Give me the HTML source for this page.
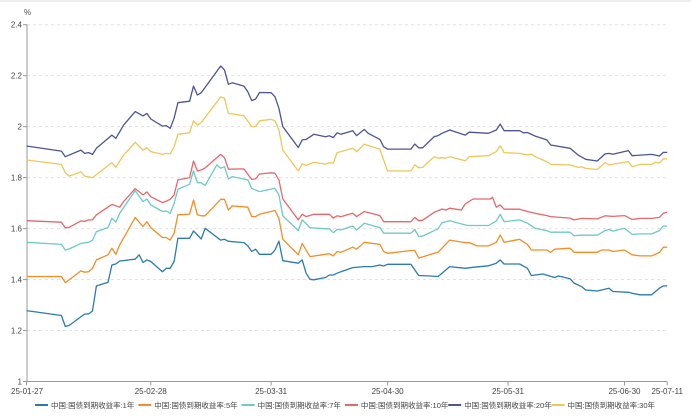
<!DOCTYPE html>
<html><head><meta charset="utf-8">
<style>
html,body{margin:0;padding:0;background:#fff;}
body{width:691px;height:413px;overflow:hidden;font-family:"Liberation Sans","Noto Sans CJK SC",sans-serif;}
svg text{font-family:"Liberation Sans","Noto Sans CJK SC",sans-serif;}
</style></head>
<body>
<svg id="chart" width="691" height="413" xmlns="http://www.w3.org/2000/svg">
  <rect x="0" y="0" width="691" height="2" fill="#eee"/>
  <g id="grid"></g>
  <g id="yaxis"></g>
  <g id="xaxis"></g>
  <g id="series"></g>
  <g id="legend"></g>
  <text x="24" y="15" font-size="8" fill="#555">%</text>
</svg>
<script>
const yTicks = [1, 1.2, 1.4, 1.6, 1.8, 2, 2.2, 2.4];
const yTickLabels = ["1","1.2","1.4","1.6","1.8","2","2.2","2.4"];
const xTickDays = [0, 32, 63, 93, 124, 154, 165];
const xTickLabels = ["25-01-27","25-02-28","25-03-31","25-04-30","25-05-31","25-06-30","25-07-11"];
const seriesNames = ["中国:国债到期收益率:1年","中国:国债到期收益率:5年","中国:国债到期收益率:7年","中国:国债到期收益率:10年","中国:国债到期收益率:20年","中国:国债到期收益率:30年"];

const days1Y = [0,9,10,11,15,16,17,18,21,22,23,24,28,29,30,31,32,35,36,37,38,39,42,43,44,45,46,50,51,52,56,57,58,59,60,63,64,65,66,70,71,72,73,74,77,78,79,80,81,84,87,89,91,92,93,99,101,104,106,107,109,113,115,119,121,122,123,127,129,130,133,136,137,140,141,143,144,147,150,151,155,156,158,161,163,164,165];
const vals1Y = [1.278,1.259,1.216,1.220,1.265,1.265,1.277,1.375,1.389,1.457,1.461,1.473,1.480,1.497,1.467,1.477,1.471,1.431,1.444,1.444,1.471,1.562,1.562,1.591,1.575,1.559,1.601,1.555,1.558,1.550,1.545,1.532,1.510,1.519,1.499,1.499,1.516,1.551,1.474,1.464,1.477,1.425,1.401,1.399,1.408,1.418,1.418,1.425,1.431,1.447,1.451,1.451,1.457,1.453,1.460,1.460,1.416,1.414,1.412,1.425,1.451,1.444,1.448,1.454,1.464,1.477,1.461,1.461,1.444,1.416,1.422,1.408,1.414,1.403,1.386,1.372,1.359,1.355,1.366,1.353,1.350,1.346,1.340,1.340,1.366,1.375,1.375];

const days5Y = [0,9,10,14,15,16,17,18,21,22,23,24,28,30,31,32,35,36,37,38,39,42,43,44,45,46,50,51,52,53,57,58,59,60,64,65,66,70,71,73,77,78,79,80,81,84,85,87,91,92,93,99,100,101,105,106,109,113,114,116,119,121,122,123,127,129,130,134,135,136,140,141,143,147,148,150,151,154,156,158,161,163,164,165];
const vals5Y = [1.412,1.412,1.388,1.434,1.429,1.431,1.444,1.477,1.497,1.523,1.499,1.536,1.644,1.608,1.627,1.604,1.565,1.565,1.555,1.582,1.654,1.657,1.712,1.654,1.650,1.650,1.715,1.715,1.673,1.689,1.684,1.647,1.647,1.656,1.671,1.640,1.558,1.497,1.542,1.490,1.499,1.501,1.493,1.510,1.507,1.527,1.519,1.546,1.538,1.510,1.503,1.514,1.514,1.484,1.503,1.507,1.555,1.545,1.545,1.532,1.532,1.546,1.575,1.546,1.558,1.538,1.516,1.516,1.507,1.519,1.523,1.507,1.507,1.507,1.516,1.516,1.510,1.516,1.497,1.493,1.493,1.506,1.527,1.527];

const days7Y = [0,9,10,11,14,16,17,18,21,22,23,24,28,30,31,32,35,36,37,38,39,42,43,44,45,46,49,50,51,52,53,57,58,60,64,65,66,70,71,73,77,78,79,80,81,84,85,87,91,92,99,100,101,102,106,107,109,113,114,119,121,122,123,127,129,131,134,135,140,141,143,147,149,150,151,154,156,158,161,163,164,165];
const vals7Y = [1.546,1.538,1.516,1.520,1.542,1.546,1.555,1.588,1.604,1.640,1.625,1.660,1.749,1.706,1.716,1.693,1.667,1.669,1.660,1.699,1.754,1.774,1.827,1.780,1.780,1.769,1.850,1.837,1.843,1.795,1.804,1.791,1.758,1.745,1.758,1.732,1.650,1.592,1.634,1.604,1.599,1.599,1.584,1.597,1.595,1.610,1.595,1.621,1.604,1.582,1.582,1.597,1.569,1.571,1.599,1.623,1.631,1.614,1.612,1.612,1.630,1.656,1.627,1.634,1.621,1.601,1.592,1.586,1.586,1.572,1.574,1.574,1.592,1.597,1.590,1.601,1.577,1.579,1.579,1.592,1.610,1.610];

const days10Y = [0,9,10,11,14,15,16,17,18,22,24,25,28,30,31,32,35,36,37,38,39,42,43,44,45,46,50,51,52,56,58,59,60,63,64,65,66,70,71,72,74,78,79,80,81,84,85,87,91,92,99,100,101,102,105,107,108,109,112,113,115,119.5,120,121,122,123,127,129,131,134,135,140,141,143,147,149,151,154,156,158,161,163,164,165];
const vals10Y = [1.631,1.625,1.603,1.605,1.630,1.628,1.634,1.634,1.654,1.695,1.684,1.706,1.757,1.732,1.744,1.725,1.702,1.708,1.715,1.732,1.791,1.800,1.865,1.826,1.830,1.838,1.891,1.878,1.833,1.834,1.793,1.795,1.814,1.819,1.817,1.791,1.716,1.634,1.656,1.647,1.656,1.656,1.641,1.650,1.647,1.660,1.647,1.667,1.651,1.627,1.627,1.644,1.631,1.633,1.664,1.677,1.673,1.680,1.673,1.697,1.716,1.716,1.723,1.684,1.693,1.676,1.676,1.667,1.660,1.651,1.647,1.641,1.634,1.640,1.638,1.650,1.648,1.651,1.636,1.640,1.640,1.644,1.660,1.664];

const days20Y = [0,9,10,14,15,16,17,18,22,23,25,28,30,31,32,35,36,37,38,39,42,43,44,45,50,51,52,53,56,57,58,59,60,63,64,65,66,70,71,72,74,77,78,79,80,81,84,85,87,88,91,92,93,99,100,101,102,105,106,107,109,113,114,119,121,122,123,127,128,129,131,134,135,140,142,144,147,149,150,151,155,156,161,163,164,165];
const vals20Y = [1.924,1.904,1.882,1.908,1.895,1.898,1.891,1.915,1.967,1.954,2.006,2.059,2.042,2.052,2.030,2.002,2.004,1.993,2.033,2.094,2.100,2.159,2.124,2.133,2.238,2.222,2.166,2.172,2.159,2.137,2.102,2.108,2.134,2.133,2.117,2.072,2.000,1.918,1.948,1.950,1.970,1.960,1.964,1.957,1.976,1.970,1.984,1.965,1.989,1.974,1.950,1.921,1.912,1.912,1.932,1.917,1.917,1.961,1.965,1.974,1.987,1.967,1.978,1.974,1.987,2.010,1.984,1.984,1.976,1.977,1.963,1.948,1.928,1.915,1.889,1.872,1.865,1.893,1.895,1.892,1.906,1.886,1.891,1.885,1.899,1.899];

const days30Y = [0,9,10,11,14,15,17,22,23,25,28,30,31,32,35,36,37,38,39,42,43,44,45,50,51,52,56,58,59,60,63,64,65,66,70,71,72,74,77,78,79,80,81,84,85,87,91,92,93,99,100,101,102,105,106,107,108,109,113,114,119,121,122,123,127,129,130,131,134,135,140,142,143,144,147,149,150,155,156,158,161,162,163,164,165];
const vals30Y = [1.869,1.852,1.819,1.806,1.823,1.806,1.800,1.859,1.840,1.889,1.938,1.908,1.917,1.902,1.891,1.895,1.893,1.921,1.970,1.976,2.023,2.006,2.016,2.117,2.111,2.052,2.043,2.000,2.000,2.023,2.029,2.023,1.987,1.908,1.826,1.854,1.848,1.860,1.853,1.859,1.857,1.898,1.902,1.915,1.902,1.931,1.911,1.869,1.826,1.826,1.850,1.839,1.840,1.882,1.876,1.878,1.876,1.882,1.866,1.882,1.886,1.902,1.925,1.898,1.895,1.889,1.892,1.882,1.863,1.852,1.850,1.840,1.842,1.836,1.832,1.859,1.850,1.863,1.843,1.852,1.852,1.860,1.857,1.874,1.874];

const NS = "http://www.w3.org/2000/svg";
const X0 = 26.5, PX_PER_DAY = 3.883;
const Y_BOTTOM = 381.5, Y_TOP = 24.7, VMIN = 1, VMAX = 2.4;
function xScale(d){ return X0 + d * PX_PER_DAY; }
function yScale(v){ return Y_BOTTOM - (v - VMIN) / (VMAX - VMIN) * (Y_BOTTOM - Y_TOP); }
function mk(tag, attrs, parent){ const e = document.createElementNS(NS, tag); for (const k in attrs) e.setAttribute(k, attrs[k]); parent.appendChild(e); return e; }

const grid = document.getElementById('grid');
const yaxis = document.getElementById('yaxis');
yTicks.forEach((v, i) => {
  const y = yScale(v);
  if (i > 0) {
    const g = mk('line', {x1: 27, x2: 667, y1: y, y2: y, stroke: '#e3e3e3', 'stroke-dasharray': '3,3', 'stroke-width': 1}, grid);
    
    
  }
  const t = mk('text', {x: 22, y: y + 3, 'font-size': 8, fill: '#444', 'text-anchor': 'end'}, yaxis);
  t.textContent = yTickLabels[i];
  
  
  const tk = mk('line', {x1: 23, x2: 27, y1: y, y2: y, stroke: '#999'}, yaxis);
  
  
});
const yl = mk('line', {x1: 27, x2: 27, y1: Y_TOP, y2: Y_BOTTOM, stroke: '#999'}, yaxis);



const xaxis = document.getElementById('xaxis');
const xl = mk('line', {x1: 26, x2: 667, y1: Y_BOTTOM, y2: Y_BOTTOM, stroke: '#999'}, xaxis);


xTickDays.forEach((d, i) => {
  const x = xScale(d);
  const tk = mk('line', {x1: x, x2: x, y1: Y_BOTTOM, y2: Y_BOTTOM + 4, stroke: '#999'}, xaxis);
  
  
  let anchor = 'middle', tx = x;
  if (i === 0) { anchor = 'start'; tx = 11; }
  if (i === xTickDays.length - 1) { tx = Math.min(x, 668); }
  const t = mk('text', {x: tx, y: 394, 'font-size': 8, fill: '#444', 'text-anchor': anchor}, xaxis);
  t.textContent = xTickLabels[i];
  
  
});

const colors = ['#2b7bb0', '#f58d26', '#6ccbc3', '#e8676b', '#4b5598', '#ecc85a'];
const allDays = [days1Y, days5Y, days7Y, days10Y, days20Y, days30Y];
const allVals = [vals1Y, vals5Y, vals7Y, vals10Y, vals20Y, vals30Y];
const keys = ['1y','5y','7y','10y','20y','30y'];
const series = document.getElementById('series');
allDays.forEach((ds, s) => {
  const vs = allVals[s];
  const n = Math.min(ds.length, vs.length);
  let d = '';
  for (let i = 0; i < n; i++) d += (i ? 'L' : 'M') + xScale(ds[i]).toFixed(1) + ',' + yScale(vs[i]).toFixed(1);
  const p = mk('path', {d: d, fill: 'none', stroke: colors[s], 'stroke-width': 1.3, 'stroke-linejoin': 'round'}, series);
  
  
});

const legend = document.getElementById('legend');
seriesNames.forEach((name, s) => {
  const x = 35 + s * 103.3;
  const g = mk('g', {}, legend);
  
  
  mk('line', {x1: x, x2: x + 13, y1: 405, y2: 405, stroke: colors[s], 'stroke-width': 2}, g);
  const t = mk('text', {x: x + 16, y: 408, 'font-size': 7.5, fill: '#444'}, g);
  t.textContent = name;
});
</script>
</body></html>
